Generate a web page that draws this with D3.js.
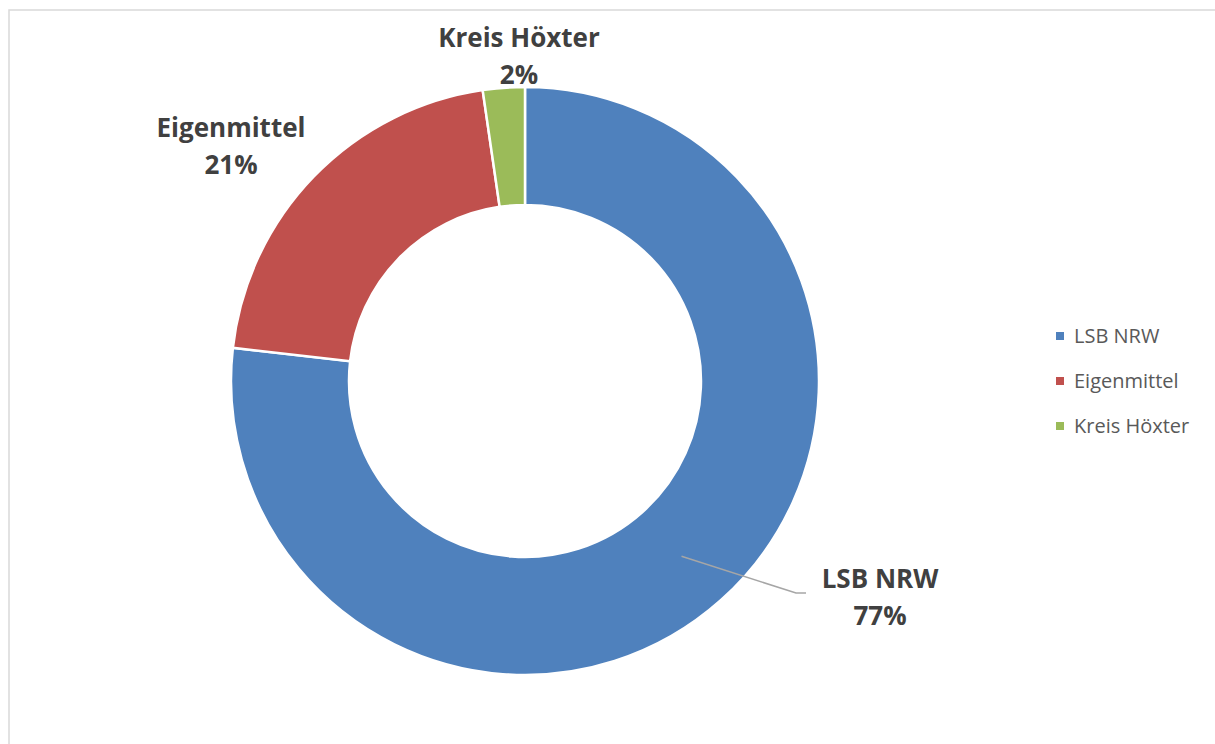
<!DOCTYPE html>
<html>
<head>
<meta charset="utf-8">
<script src="https://cdn.jsdelivr.net/npm/d3@7"></script>
<style>
  body { margin: 0; background: #fff; }
  svg { display: block; }
</style>
</head>
<body>
<div id="donut-chart"></div>
<script>
const categories = ["LSB NRW", "Eigenmittel", "Kreis Höxter"];
const shares = [76.8, 20.9, 2.3];
const pctLabels = ["77%", "21%", "2%"];
const colors = ["#4F81BD", "#C0504D", "#9BBB59"];

const width = 1215;
const height = 744;
const cx = 525, cy = 381;
const outerR = 294, innerR = 176;

const data = categories.map((c, i) => ({ name: c, value: shares[i], pct: pctLabels[i], color: colors[i] }));

const svg = d3.select("#donut-chart")
    .append("svg")
    .attr("width", width)
    .attr("height", height);

// chart frame
svg.append("rect")
    .attr("x", 9)
    .attr("y", 10)
    .attr("width", 1300)
    .attr("height", 900)
    .attr("fill", "none")
    .attr("stroke", "#d9d9d9")
    .attr("stroke-width", 1.5);

const pie = d3.pie().value(d => d.value).sort(null);
const arc = d3.arc().innerRadius(innerR).outerRadius(outerR);
const arcs = pie(data);

const g = svg.append("g")
    .attr("transform", `translate(${cx}, ${cy})`);

g.selectAll("path")
    .data(arcs)
    .join("path")
    .attr("d", arc)
    .attr("fill", d => d.data.color)
    .attr("stroke", "#fff")
    .attr("stroke-width", 2.5);

// data labels (placed like the original, outside the ring)
const labelPos = [
    { x: 880, y: 588 },
    { x: 231, y: 137 },
    { x: 519, y: 47 }
];

// leader line for LSB NRW, from the middle of the ring
const a0 = arcs[0];
const midA = (a0.startAngle + a0.endAngle) / 2;
const leaderR = (innerR + outerR) / 2;
const lx = cx + leaderR * Math.sin(midA);
const ly = cy - leaderR * Math.cos(midA);
svg.append("polyline")
    .attr("points", `${lx},${ly} 796,593 806,593`)
    .attr("fill", "none")
    .attr("stroke", "#a6a6a6")
    .attr("stroke-width", 1.5);

const labels = svg.selectAll("g.label")
    .data(data)
    .join("g")
    .attr("class", "label")
    .attr("transform", (d, i) => `translate(${labelPos[i].x}, ${labelPos[i].y})`);

labels.append("text")
    .attr("text-anchor", "middle")
    .attr("font-family", "'Open Sans', sans-serif")
    .attr("font-weight", "bold")
    .attr("font-size", 26)
    .attr("fill", "#404040")
    .text(d => d.name);

labels.append("text")
    .attr("text-anchor", "middle")
    .attr("y", 37)
    .attr("font-family", "'Open Sans', sans-serif")
    .attr("font-weight", "bold")
    .attr("font-size", 26)
    .attr("fill", "#404040")
    .text(d => d.pct);

// legend
const legend = svg.append("g")
    .attr("transform", "translate(1056, 336)");

const items = legend.selectAll("g")
    .data(data)
    .join("g")
    .attr("transform", (d, i) => `translate(0, ${i * 45})`);

items.append("rect")
    .attr("x", 0)
    .attr("y", -4)
    .attr("width", 8)
    .attr("height", 8)
    .attr("fill", d => d.color);

items.append("text")
    .attr("x", 18)
    .attr("y", 7)
    .attr("font-family", "'Open Sans', sans-serif")
    .attr("font-size", 20)
    .attr("fill", "#595959")
    .text(d => d.name);
</script>
</body>
</html>
